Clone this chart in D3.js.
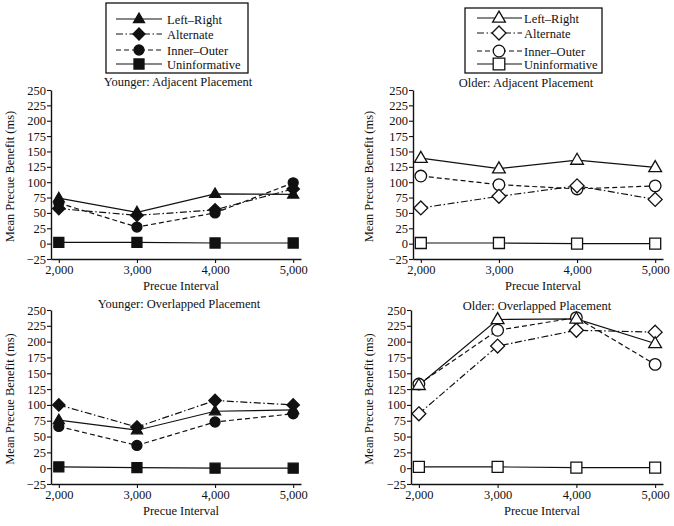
<!DOCTYPE html>
<html>
<head>
<meta charset="utf-8">
<script src="https://cdn.jsdelivr.net/npm/d3@7"></script>
<style>
  html, body { margin: 0; padding: 0; background: #fff; }
  svg { display: block; }
  text { font-family: "Liberation Serif", "Times New Roman", serif; fill: #111; }
</style>
</head>
<body>
<script>
// ---------- data ----------
const intervals = [2000, 3000, 4000, 5000];
const xTickLabels = ["2,000", "3,000", "4,000", "5,000"];
const yTicks = [-25, 0, 25, 50, 75, 100, 125, 150, 175, 200, 225, 250];
const seriesNames = ["Left–Right", "Alternate", "Inner–Outer", "Uninformative"];
const panelTitles = ["Younger: Adjacent Placement", "Older: Adjacent Placement",
                     "Younger: Overlapped Placement", "Older: Overlapped Placement"];

const youngAdjLeftRight     = [74, 51, 81, 80];
const youngAdjAlternate     = [57, 46, 55, 89];
const youngAdjInnerOuter    = [66, 27, 50, 99];
const youngAdjUninformative = [2, 2, 1, 1];

const oldAdjLeftRight       = [139, 122, 136, 124];
const oldAdjAlternate       = [58, 77, 94, 72];
const oldAdjInnerOuter      = [110, 96, 89, 94];
const oldAdjUninformative   = [1, 1, 0, 0];

const youngOvlLeftRight     = [76, 60, 90, 92];
const youngOvlAlternate     = [100, 65, 107, 100];
const youngOvlInnerOuter    = [66, 36, 73, 86];
const youngOvlUninformative = [2, 1, 0, 0];

const oldOvlLeftRight       = [131, 235, 236, 197];
const oldOvlAlternate       = [86, 193, 218, 215];
const oldOvlInnerOuter      = [133, 218, 238, 164];
const oldOvlUninformative   = [2, 2, 1, 1];

// ---------- layout ----------
const W = 674, H = 526;
const svg = d3.select("body").append("svg").attr("width", W).attr("height", H);

const styles = [
  { dash: null,        shape: "triangle" },
  { dash: "7,2.5,1.5,2.5", shape: "diamond" },
  { dash: "5,3",       shape: "circle" },
  { dash: null,        shape: "square" }
];

function shapePath(shape, r) {
  if (shape === "triangle") {
    const h = r * 1.9, w = r * 1.1;
    return `M0,${-h*0.62}L${w},${h*0.38}L${-w},${h*0.38}Z`;
  }
  if (shape === "diamond") return `M0,${-r*1.2}L${r*1.2},0L0,${r*1.2}L${-r*1.2},0Z`;
  if (shape === "square") return `M${-r},${-r}H${r}V${r}H${-r}Z`;
  return d3.arc()({innerRadius: 0, outerRadius: r, startAngle: 0, endAngle: 2*Math.PI});
}

const panels = [
  { data: [youngAdjLeftRight, youngAdjAlternate, youngAdjInnerOuter, youngAdjUninformative],
    filled: true, xr: [51, 301], yr: [259, 90], title: panelTitles[0], tx: 178, ty: 86, ylx: 14 },
  { data: [oldAdjLeftRight, oldAdjAlternate, oldAdjInnerOuter, oldAdjUninformative],
    filled: false, xr: [413, 663], yr: [259, 90], title: panelTitles[1], tx: 526, ty: 87, ylx: 373 },
  { data: [youngOvlLeftRight, youngOvlAlternate, youngOvlInnerOuter, youngOvlUninformative],
    filled: true, xr: [51, 301], yr: [484, 310], title: panelTitles[2], tx: 179, ty: 308, ylx: 14 },
  { data: [oldOvlLeftRight, oldOvlAlternate, oldOvlInnerOuter, oldOvlUninformative],
    filled: false, xr: [411, 663], yr: [484, 310], title: panelTitles[3], tx: 537, ty: 310, ylx: 373 }
];

panels.forEach(p => {
  const x = d3.scaleLinear().domain([1900, 5100]).range(p.xr);
  const y = d3.scaleLinear().domain([-25, 250]).range(p.yr);
  const g = svg.append("g");

  // axes
  const yAxis = d3.axisLeft(y).tickValues(yTicks).tickSize(4).tickSizeOuter(0)
    .tickFormat(d => d < 0 ? "\u2212" + Math.abs(d) : String(d));
  const yg = g.append("g").attr("transform", `translate(${p.xr[0]},0)`).call(yAxis);
  const xAxis = d3.axisBottom(x).tickValues(intervals).tickSize(4).tickSizeOuter(0)
    .tickFormat((d, i) => xTickLabels[i]);
  const xg = g.append("g").attr("transform", `translate(0,${p.yr[0]})`).call(xAxis);
  [yg, xg].forEach(a => {
    a.select(".domain").attr("stroke", "#111").attr("stroke-width", 1.4);
    a.selectAll(".tick line").attr("stroke", "#111").attr("stroke-width", 1.1);
    a.selectAll("text").attr("font-family", "Liberation Serif, serif")
      .attr("font-size", 12.5).attr("fill", "#111");
  });
  yg.selectAll("text").attr("x", -5);
  xg.selectAll("text").attr("y", 6);

  // axis titles
  g.append("text").attr("x", (p.xr[0] + p.xr[1]) / 2 + 5).attr("y", p.yr[0] + 31)
    .attr("text-anchor", "middle").attr("font-size", 12.5).text("Precue Interval");
  g.append("text")
    .attr("transform", `translate(${p.ylx},${(p.yr[0] + p.yr[1]) / 2 + 2}) rotate(-90)`)
    .attr("text-anchor", "middle").attr("font-size", 12.5).text("Mean Precue Benefit (ms)");
  g.append("text").attr("x", p.tx).attr("y", p.ty).attr("text-anchor", "middle")
    .attr("font-size", 12.5).text(p.title);

  // series
  const line = d3.line().x((d, i) => x(intervals[i])).y(d => y(d));
  p.data.forEach((vals, si) => {
    const st = styles[si];
    g.append("path").attr("d", line(vals)).attr("fill", "none")
      .attr("stroke", "#111").attr("stroke-width", 1.2)
      .attr("stroke-dasharray", st.dash);
  });
  // markers drawn after lines
  [3, 2, 1, 0].forEach(si => {
    const st = styles[si];
    const r = p.filled ? (st.shape === "circle" ? 5 : st.shape === "diamond" ? 5.2 : st.shape === "square" ? 5 : 5)
                       : (st.shape === "circle" ? 5.8 : st.shape === "diamond" ? 5.8 : st.shape === "square" ? 5.5 : 5.8);
    g.selectAll(null).data(p.data[si]).enter().append("path")
      .attr("transform", (d, i) => `translate(${x(intervals[i])},${y(d)})`)
      .attr("d", shapePath(st.shape, r))
      .attr("fill", p.filled ? "#111" : "#fff")
      .attr("stroke", "#111").attr("stroke-width", 1.3);
  });
});

// ---------- legends ----------
const legends = [
  { box: [106, 3, 142, 70], rows: [19, 34, 50, 64], l0: 116, l1: 162, mx: 139, tx: 167, filled: true },
  { box: [465, 8, 137, 65], rows: [18, 33, 51, 64], l0: 477, l1: 522, mx: 499, tx: 524, filled: false }
];
legends.forEach(L => {
  const g = svg.append("g");
  g.append("rect").attr("x", L.box[0]).attr("y", L.box[1]).attr("width", L.box[2]).attr("height", L.box[3])
    .attr("fill", "#fff").attr("stroke", "#111").attr("stroke-width", 1.3);
  seriesNames.forEach((name, si) => {
    const st = styles[si];
    const yy = L.rows[si];
    g.append("line").attr("x1", L.l0).attr("x2", L.l1).attr("y1", yy).attr("y2", yy)
      .attr("stroke", "#111").attr("stroke-width", 1.2).attr("stroke-dasharray", st.dash);
    const r = L.filled ? 5 : 5.8;
    g.append("path").attr("transform", `translate(${L.mx},${yy})`).attr("d", shapePath(st.shape, r))
      .attr("fill", L.filled ? "#111" : "#fff").attr("stroke", "#111").attr("stroke-width", 1.3);
    g.append("text").attr("x", L.tx).attr("y", yy + 4.5).attr("font-size", 12.5).text(name);
  });
});
</script>
</body>
</html>
